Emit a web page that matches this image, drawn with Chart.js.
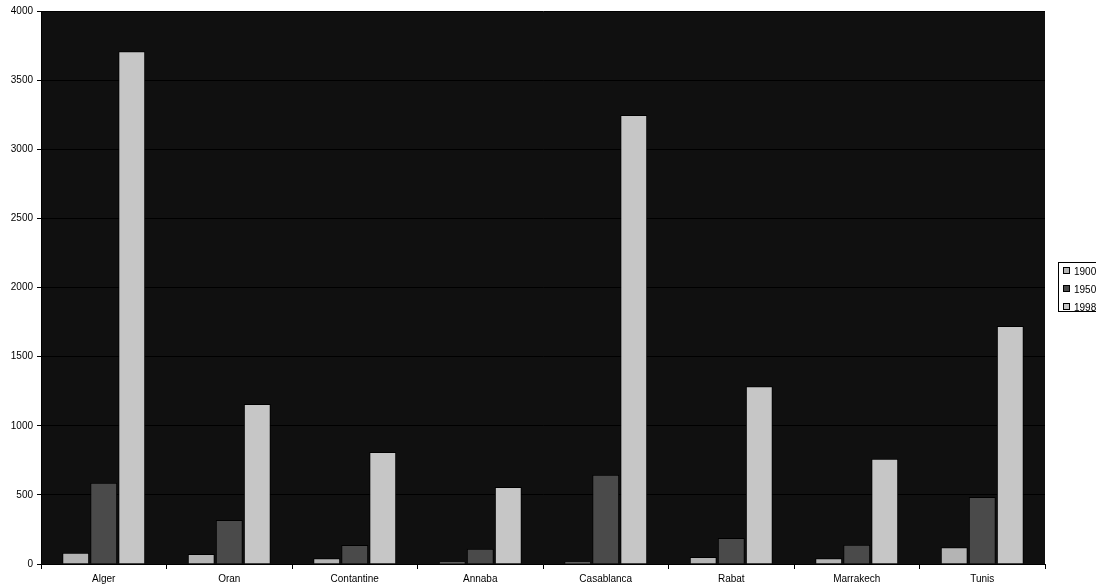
<!DOCTYPE html>
<html>
<head>
<meta charset="utf-8">
<script src="https://cdn.jsdelivr.net/npm/chart.js@4"></script>
<style>
    html, body { margin: 0; padding: 0; background: #fff; }
    #wrap { position: relative; width: 1096px; height: 587px; }
    #legend {
        position: absolute; left: 1058px; top: 262px; width: 44px; height: 50px;
        border: 1px solid #000; background: #fff; box-sizing: border-box;
        font: 10px "Liberation Sans", Arial, sans-serif; color: #000;
        padding-top: 3px;
    }
    .item { height: 18px; line-height: 12px; padding-left: 4px; white-space: nowrap; }
    .sw { display: inline-block; width: 5px; height: 5px; border: 1px solid #000; margin-right: 4px; vertical-align: 1px; }
</style>
</head>
<body>
<div id="wrap">
    <canvas id="chart" width="1096" height="587"></canvas>
    <div id="legend"></div>
</div>
<script>
const cities = ['Alger', 'Oran', 'Contantine', 'Annaba', 'Casablanca', 'Rabat', 'Marrakech', 'Tunis'];
const years = ['1900', '1950', '1998'];
const pop1900 = [82, 72, 41, 17, 17, 51, 41, 121];
const pop1950 = [588, 318, 137, 111, 646, 188, 140, 485];
const pop1998 = [3708, 1157, 810, 557, 3248, 1285, 762, 1721];
const colors = ['#b4b4b4', '#4a4a4a', '#c6c6c6'];

const plotBg = {
    id: 'plotBg',
    beforeDraw(chart) {
        const {ctx, chartArea: a} = chart;
        ctx.save();
        ctx.fillStyle = '#101010';
        ctx.fillRect(a.left, a.top, a.right - a.left, a.bottom - a.top);
        ctx.strokeStyle = '#808080';
        ctx.lineWidth = 1;
        ctx.beginPath();
        ctx.moveTo(a.left, a.top + 0.5);
        ctx.lineTo(a.right, a.top + 0.5);
        ctx.stroke();
        ctx.restore();
    }
};

new Chart(document.getElementById('chart'), {
    type: 'bar',
    data: {
        labels: cities,
        datasets: [pop1900, pop1950, pop1998].map((d, i) => ({
            label: years[i],
            data: d,
            backgroundColor: colors[i],
            borderColor: '#000',
            borderWidth: 1,
            categoryPercentage: 0.67,
            barPercentage: 0.96,
        }))
    },
    options: {
        responsive: false,
        animation: false,
        devicePixelRatio: 1,
        layout: { padding: { top: 11, right: 51, left: 0, bottom: 0 } },
        plugins: { legend: { display: false }, tooltip: { enabled: false } },
        scales: {
            x: {
                grid: { drawOnChartArea: false, color: '#000', tickLength: 5, offset: true },
                border: { color: '#000' },
                ticks: { color: '#000', font: { family: 'Liberation Sans', size: 10 }, padding: 4 },
                afterFit(s) { s.height = 23; }
            },
            y: {
                min: 0, max: 4000,
                ticks: {
                    stepSize: 500, color: '#000', font: { family: 'Liberation Sans', size: 10 }, padding: 4,
                    callback: v => String(v)
                },
                grid: { color: '#000', tickLength: 4 },
                border: { color: '#000' },
                afterFit(s) { s.width = 41; }
            }
        }
    },
    plugins: [plotBg]
});

document.getElementById('legend').innerHTML = years.map((y, i) =>
    `<div class="item"><span class="sw" style="background:${colors[i]}"></span>${y}</div>`).join('');
</script>
</body>
</html>
